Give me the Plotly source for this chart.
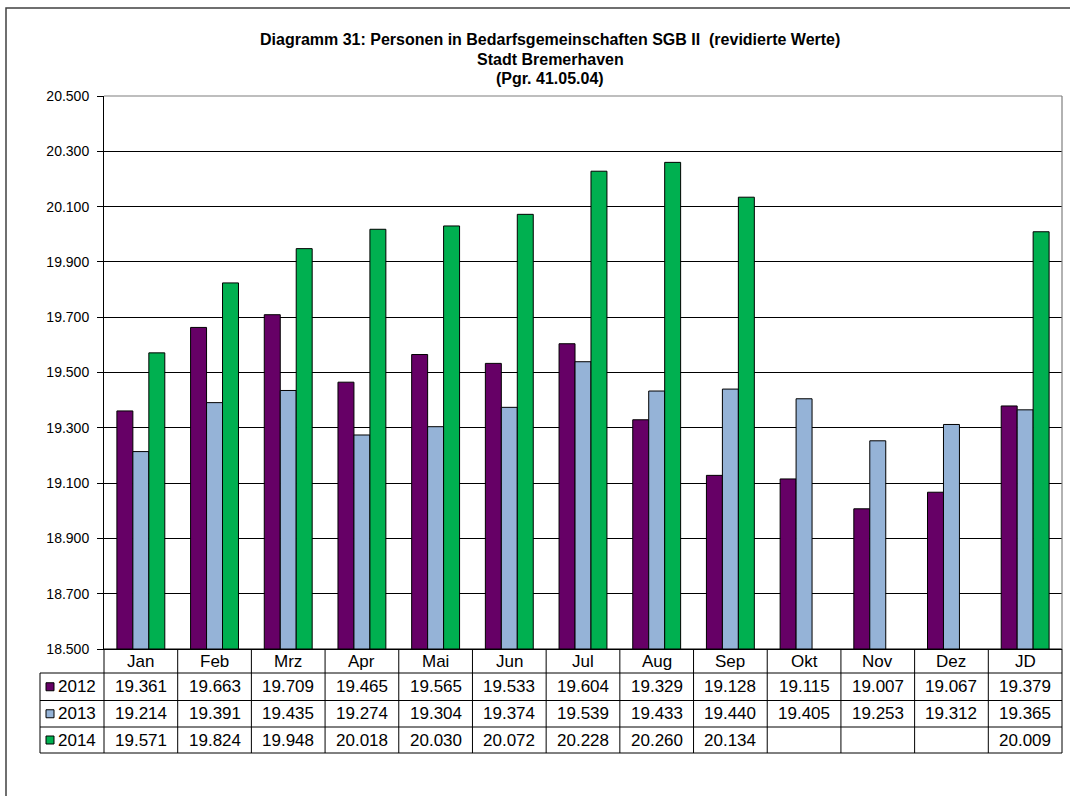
import plotly.graph_objects as go

months = ["Jan", "Feb", "Mrz", "Apr", "Mai", "Jun", "Jul", "Aug", "Sep", "Okt", "Nov", "Dez", "JD"]
years = ["2012", "2013", "2014"]
v2012 = [19361, 19663, 19709, 19465, 19565, 19533, 19604, 19329, 19128, 19115, 19007, 19067, 19379]
v2013 = [19214, 19391, 19435, 19274, 19304, 19374, 19539, 19433, 19440, 19405, 19253, 19312, 19365]
v2014 = [19571, 19824, 19948, 20018, 20030, 20072, 20228, 20260, 20134, None, None, None, 20009]
colors = ["#660066", "#95B3D7", "#00B050"]
title_lines = ["Diagramm 31: Personen in Bedarfsgemeinschaften SGB II  (revidierte Werte)",
               "Stadt Bremerhaven", "(Pgr. 41.05.04)"]

W, H = 1070, 796
L, R, T, B = 104, 1062, 96, 649
FONT = "Arial, Liberation Sans, sans-serif"


def px(x):
    return (x - L) / (R - L)


def py(y):
    return (B - y) / (B - T)


def fmt(v):
    return "" if v is None else f"{v:,}".replace(",", ".")


series = [v2012, v2013, v2014]
fig = go.Figure()
for name, vals, c in zip(years, series, colors):
    fig.add_trace(go.Bar(x=months, y=vals, name=name, marker=dict(color=c, line=dict(color="black", width=1))))

shapes = []
annotations = []
n = len(months)
rows = [649, 673, 700.5, 727, 753]
line = dict(color="black", width=1)
shapes.append(dict(type="line", xref="paper", yref="paper", x0=px(L), x1=px(R), y0=py(rows[0]), y1=py(rows[0]), line=line))
for r in rows[1:]:
    shapes.append(dict(type="line", xref="paper", yref="paper", x0=px(40), x1=px(R), y0=py(r), y1=py(r), line=line))
for i in range(n + 1):
    xx = px(L + i * (R - L) / n)
    shapes.append(dict(type="line", xref="paper", yref="paper", x0=xx, x1=xx, y0=py(rows[0]), y1=py(rows[-1]), line=line))
shapes.append(dict(type="line", xref="paper", yref="paper", x0=px(40), x1=px(40), y0=py(rows[1]), y1=py(rows[-1]), line=line))
shapes.append(dict(type="line", xref="paper", yref="paper", x0=0, x1=1, y0=1, y1=1, line=dict(color="#7f7f7f", width=1.2)))
shapes.append(dict(type="line", xref="paper", yref="paper", x0=1, x1=1, y0=0, y1=1, line=dict(color="#7f7f7f", width=1.2)))
shapes.append(dict(type="rect", xref="paper", yref="paper", x0=px(6), x1=px(1078), y0=py(8), y1=py(806),
                   line=dict(color="#404040", width=1.5), layer="below"))

tfont = dict(family=FONT, size=17, color="black")
for m in months:
    annotations.append(dict(x=m, xref="x", y=py((rows[0] + rows[1]) / 2), yref="paper", text=m,
                            showarrow=False, font=tfont, xanchor="center", yanchor="middle"))
for k, (name, vals, c) in enumerate(zip(years, series, colors)):
    yc_px = (rows[k + 1] + rows[k + 2]) / 2
    yc = py(yc_px)
    for m, v in zip(months, vals):
        annotations.append(dict(x=m, xref="x", y=yc, yref="paper", text=fmt(v), showarrow=False,
                                font=tfont, xanchor="center", yanchor="middle"))
    shapes.append(dict(type="rect", xref="paper", yref="paper", x0=px(46), x1=px(54),
                       y0=py(yc_px + 4), y1=py(yc_px - 4),
                       fillcolor=c, line=dict(color="black", width=1)))
    annotations.append(dict(x=px(56), xref="paper", y=yc, yref="paper", text=name, showarrow=False,
                            font=tfont, xanchor="left", yanchor="middle"))

for t, yy in zip(title_lines, [39, 59, 79]):
    annotations.append(dict(x=px(550), xref="paper", y=py(yy), yref="paper", text=f"<b>{t}</b>", showarrow=False,
                            font=dict(family=FONT, size=16, color="black"), xanchor="center", yanchor="middle"))

fig.update_layout(
    width=W, height=H,
    margin=dict(l=L, r=W - R, t=T, b=H - B, pad=0),
    paper_bgcolor="white", plot_bgcolor="white",
    barmode="group", bargap=0.35, bargroupgap=0,
    separators=",.",
    showlegend=False,
    shapes=shapes, annotations=annotations,
    xaxis=dict(showticklabels=False, showgrid=False, showline=True, linecolor="black", linewidth=1, ticks=""),
    yaxis=dict(range=[18500, 20500], dtick=200, tick0=18500, tickformat=",.0f",
               showgrid=True, gridcolor="black", gridwidth=1, showline=True, linecolor="black", linewidth=1,
               ticks="outside", ticklen=6, tickcolor="black", ticklabelstandoff=5,
               tickfont=dict(family=FONT, size=14, color="black"), zeroline=False),
    font=dict(family=FONT),
)
fig.write_html("out.html", config={"displayModeBar": False},
               post_script="document.body.style.margin='0px';")
